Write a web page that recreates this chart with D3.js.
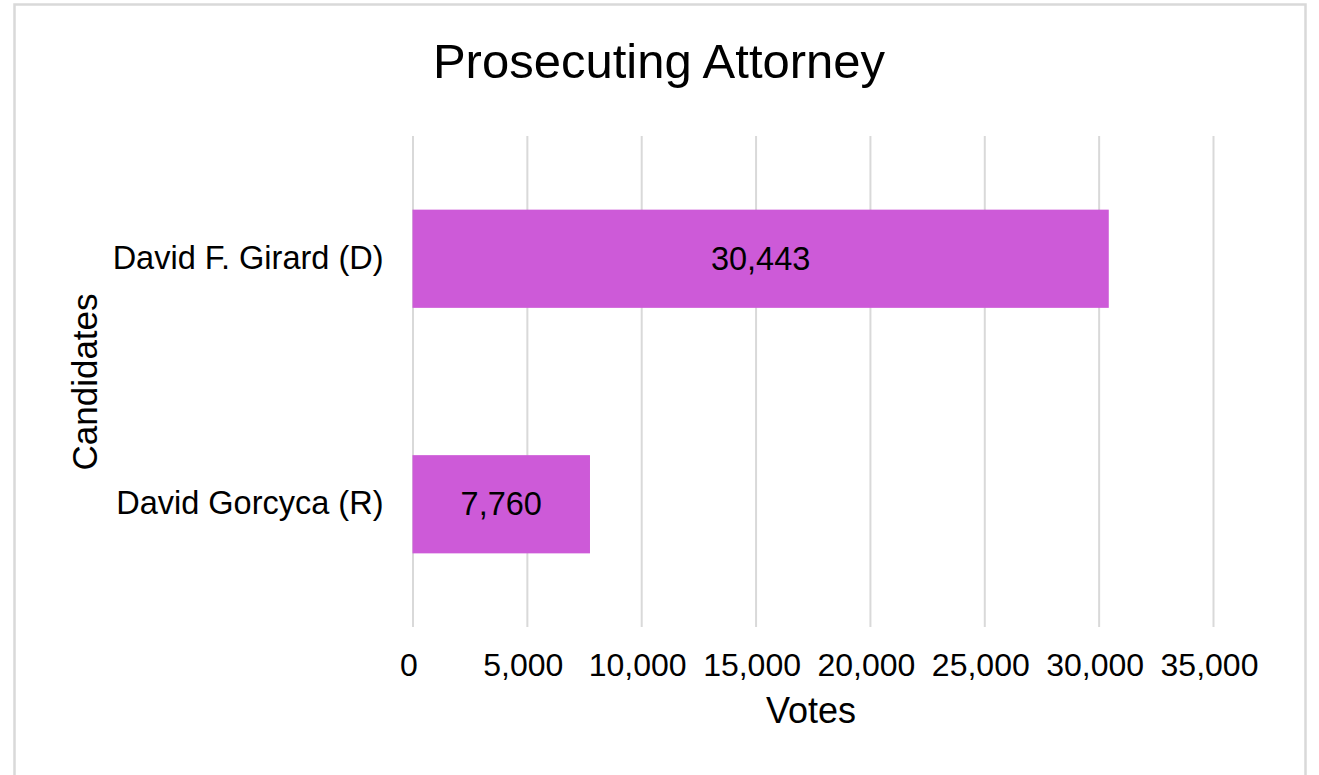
<!DOCTYPE html>
<html>
<head>
<meta charset="utf-8">
<script src="https://cdn.jsdelivr.net/npm/d3@7"></script>
<style>
    body { margin: 0; background: #fff; }
    svg { display: block; font-family: "Liberation Sans", Arial, sans-serif; }
</style>
</head>
<body>
<svg id="chart" width="1319" height="775"></svg>
<script>
// chart values
const candidates = ["David F. Girard (D)", "David Gorcyca (R)"];
const votes = [30443, 7760];
const xTicks = [0, 5000, 10000, 15000, 20000, 25000, 30000, 35000];
const chartTitle = "Prosecuting Attorney";
const xTitle = "Votes";
const yTitle = "Candidates";

const barColor = "#cd5ad8";
const gridColor = "#d9d9d9";

const margin = {top: 136, right: 106, bottom: 148, left: 412.5};
const width = 1319, height = 775;
const plotW = width - margin.left - margin.right;
const plotH = height - margin.top - margin.bottom;

const svg = d3.select("#chart");

// outer frame
svg.append("rect")
    .attr("x", 14.5)
    .attr("y", 4.5)
    .attr("width", 1291)
    .attr("height", 790)
    .style("fill", "none")
    .style("stroke", gridColor)
    .style("stroke-width", 2.5);

const x = d3.scaleLinear().domain([0, 35000]).range([0, plotW]);
const y = d3.scaleBand().domain(candidates).range([0, plotH])
    .paddingInner(0.6).paddingOuter(0.3);

const g = svg.append("g")
    .attr("transform", "translate(" + margin.left + "," + margin.top + ")");

// grid + tick labels
const xAxis = d3.axisBottom(x)
    .tickValues(xTicks)
    .tickSize(-plotH)
    .tickFormat(d3.format(","));

const xAxisG = g.append("g")
    .attr("transform", "translate(0," + plotH + ")")
    .call(xAxis);
xAxisG.select(".domain").remove();
xAxisG.selectAll("line")
    .style("stroke", gridColor)
    .style("stroke-width", 2);
xAxisG.selectAll("text")
    .attr("x", -4)
    .attr("y", 49)
    .attr("dy", null)
    .style("font-size", "32px")
    .style("fill", "#000");

// bars
g.selectAll(".bar")
    .data(votes)
    .enter().append("rect")
    .attr("class", "bar")
    .attr("x", 0)
    .attr("y", (d, i) => y(candidates[i]))
    .attr("width", d => x(d))
    .attr("height", y.bandwidth())
    .style("fill", barColor);

// value labels
g.selectAll(".val")
    .data(votes)
    .enter().append("text")
    .attr("class", "val")
    .attr("x", d => x(d) / 2)
    .attr("y", (d, i) => y(candidates[i]) + y.bandwidth() / 2)
    .attr("dy", "0.34em")
    .attr("text-anchor", "middle")
    .style("font-size", "32.5px")
    .style("fill", "#000")
    .text(d3.format(","));

// category labels
const yAxisG = g.append("g")
    .call(d3.axisLeft(y).tickSize(0).tickPadding(29));
yAxisG.select(".domain").remove();
yAxisG.selectAll("text")
    .attr("dy", "0.3em")
    .style("font-size", "32.5px")
    .style("fill", "#000");

// titles
svg.append("text")
    .attr("x", 659)
    .attr("y", 78)
    .attr("text-anchor", "middle")
    .style("font-size", "49px")
    .text(chartTitle);

svg.append("text")
    .attr("x", 811)
    .attr("y", 723)
    .attr("text-anchor", "middle")
    .style("font-size", "36px")
    .text(xTitle);

svg.append("text")
    .attr("transform", "translate(97,382) rotate(-90)")
    .attr("text-anchor", "middle")
    .style("font-size", "35px")
    .text(yTitle);
</script>
</body>
</html>
